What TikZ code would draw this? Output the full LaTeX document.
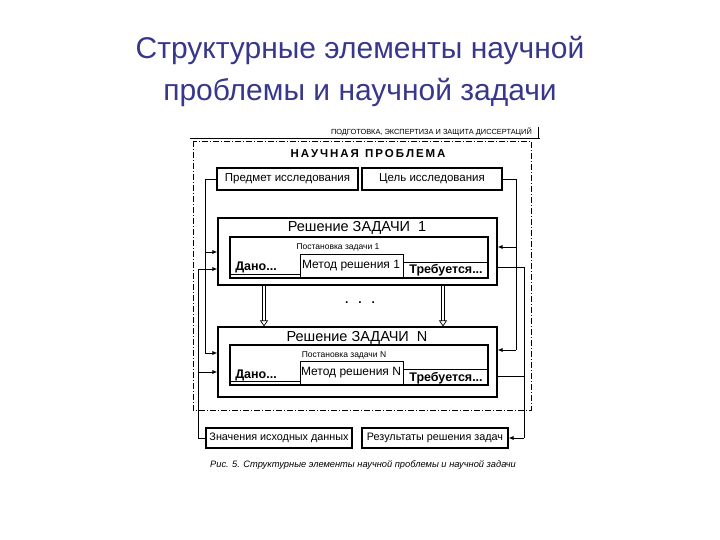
\documentclass[tikz,border=0pt]{standalone}
\usepackage{fontspec}
\setmainfont{Liberation Sans}
\usetikzlibrary{arrows.meta}
\definecolor{titleblue}{RGB}{55,55,140}
\begin{document}
\begin{tikzpicture}[x=1pt,y=-1pt,
  box/.style={draw,line width=1.1pt},
  ln/.style={line width=0.8pt},
  arr/.style={ln,-{Latex[length=5pt,width=4pt]}},
  dbl/.style={draw=black,double=white,double distance=2.5pt,line width=0.7pt,-{Triangle[open,length=6pt,width=8pt]}},
  txt/.style={font=\fontsize{11.5}{13}\selectfont,inner sep=0pt},
  bld/.style={font=\bfseries\fontsize{12.5}{14}\selectfont,inner sep=0pt}]
\useasboundingbox (0,0) rectangle (720,540);
\node[font=\fontsize{30}{42}\selectfont,text=titleblue,align=center] (title) at (360,71) {Структурные элементы научной\\проблемы и научной задачи};
% header
\node[font=\fontsize{7.4}{8}\selectfont,anchor=east,inner sep=1pt] (hdr) at (533,132) {ПОДГОТОВКА, ЭКСПЕРТИЗА И ЗАЩИТА ДИССЕРТАЦИЙ};
\draw[ln] (190,138) -- (540,138) (538,127) -- (538,138);
\draw[line width=0.8pt,dash pattern=on 6pt off 2pt on 1pt off 2pt] (193,141) rectangle (531,410);
\node[font=\bfseries\fontsize{11.5}{13}\selectfont] (np) at (368,154) {Н\,А\,У\,Ч\,Н\,А\,Я\ \ П\,Р\,О\,Б\,Л\,Е\,М\,А};
% top boxes
\node[box,minimum width=141pt,minimum height=22pt,txt] (pred) at (287.5,179) {Предмет исследования};
\node[box,minimum width=140pt,minimum height=22pt,txt] (cel) at (432,179) {Цель исследования};
% task 1
\node[box,minimum width=279pt,minimum height=67pt] (t1) at (357.5,251.5) {};
\node[font=\fontsize{14.5}{16}\selectfont] (t1h) at (357,228) {Решение ЗАДАЧИ\ \ 1};
\draw[box] (230,237) rectangle (488,278);
\draw[ln] (230,274) -- (300,274) -- (300,254) -- (403,254) -- (403,262) -- (488,262);
\draw[ln] (300,274) -- (300,278) (403,262)--(403,278);
\node[txt,font=\fontsize{8.5}{10}\selectfont] (p1) at (338,247) {Постановка задачи 1};
\node[bld] (d1) at (256,267) {Дано...};
\node[txt,font=\fontsize{12}{14}\selectfont] (m1) at (351,266) {Метод решения 1};
\node[bld] (r1) at (446,270) {Требуется...};
% task N
\node[box,minimum width=279pt,minimum height=70pt] (tn) at (357.5,362) {};
\node[font=\fontsize{14.5}{16}\selectfont] (tnh) at (357,338) {Решение ЗАДАЧИ\ \ N};
\draw[box] (230,345) rectangle (488,385);
\draw[ln] (230,381) -- (300,381) -- (300,361) -- (403,361) -- (403,369) -- (488,369);
\draw[ln] (300,381) -- (300,385) (403,369)--(403,385);
\node[txt,font=\fontsize{8.5}{10}\selectfont] (pn) at (344,355) {Постановка задачи N};
\node[bld] (dn) at (256,375) {Дано...};
\node[txt,font=\fontsize{12}{14}\selectfont] (mn) at (351,373) {Метод решения N};
\node[bld] (rn) at (446,378) {Требуется...};
% dots
\node[font=\bfseries\fontsize{12}{12}\selectfont] (dots) at (360,303) {.\ \ \ .\ \ \ .};
\draw[dbl] (t1.south -| 264,0) -- (tn.north -| 264,0);
\draw[dbl] (t1.south -| 443,0) -- (tn.north -| 443,0);
% bottom boxes
\node[box,minimum width=146pt,minimum height=20pt,txt,font=\fontsize{10.8}{12}\selectfont] (zn) at (279,438) {Значения исходных данных};
\node[box,minimum width=146pt,minimum height=20pt,txt,font=\fontsize{10.8}{12}\selectfont] (rez) at (435,438) {Результаты решения задач};
\node[font=\itshape\fontsize{9.3}{10}\selectfont] (cap) at (363,465) {Рис. 5. Структурные элементы научной проблемы и научной задачи};
% connectors left
\draw[ln] (pred.west) -- (205,179) -- (205,353);
\draw[arr] (205,252) -- (t1.west |- 0,252);
\draw[arr] (205,353) -- (tn.west |- 0,353);
\draw[ln] (zn.west) -- (198,438) -- (198,269);
\draw[arr] (198,269) -- (t1.west |- 0,269);
\draw[arr] (198,372) -- (tn.west |- 0,372);
% connectors right
\draw[ln] (cel.east) -- (516,179) -- (516,350);
\draw[arr] (516,247) -- (t1.east |- 0,247);
\draw[arr] (516,350) -- (tn.east |- 0,350);
\draw[ln] (t1.east |- 0,267) -- (524,267) -- (524,438);
\draw[ln] (tn.east |- 0,376) -- (524,376);
\draw[arr] (524,438) -- (rez.east);
\end{tikzpicture}
\end{document}
